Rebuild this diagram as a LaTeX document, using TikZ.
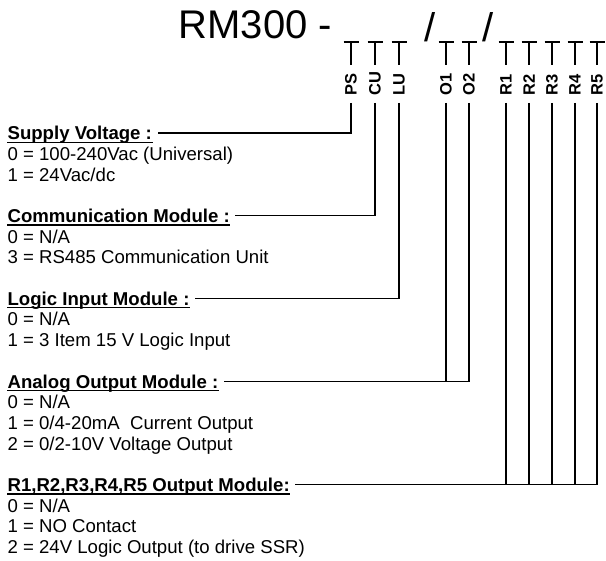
\documentclass[tikz,border=0pt]{standalone}
\usepackage{fontspec}
\setmainfont{Liberation Sans}
\usetikzlibrary{calc}
\begin{document}
\begin{tikzpicture}[x=1pt,y=-1pt,line width=1.2pt,
  lbl/.style={font=\fontsize{16.5}{16.5}\selectfont\bfseries,rotate=90,anchor=west,inner sep=0pt},
  head/.style={font=\fontsize{18.6}{18.6}\selectfont\bfseries,anchor=base west,inner sep=0pt},
  txt/.style={font=\fontsize{18.6}{18.6}\selectfont,anchor=base west,inner sep=0pt},
  title/.style={font=\fontsize{40}{40}\selectfont,anchor=base west,inner sep=0pt},
  wire/.style={line width=1.2pt}]
\useasboundingbox (0,0) rectangle (606,561);
% title
\node[title] (t) at (178,39) {RM300 -};
\node[title] (s1) at (423.5,42) {/};
\node[title] (s2) at (482,42) {/};
% T marks, labels, wire starts
\foreach \n/\x in {PS/351,CU/375,LU/399,O1/446,O2/469,R1/506,R2/529,R3/552,R4/575,R5/597}{
  \draw[wire] (\x-7.5,42) -- (\x+7.5,42) (\x,42) -- (\x,65);
  \node[lbl] (l\n) at (\x,96) {\n};
  \coordinate (c\n) at (\x,103);
}
% groups
\newcommand{\bl}[1]{\fpeval{139.7+20.7*#1}}
\node[head] (hS) at (7,\bl{0}) {Supply Voltage :};
\node[txt] (tS1) at (7,\bl{1}) {0 = 100-240Vac (Universal)};
\node[txt] (tS2) at (7,\bl{2}) {1 = 24Vac/dc};
\node[head] (hC) at (7,\bl{4}) {Communication Module :};
\node[txt] (tC1) at (7,\bl{5}) {0 = N/A};
\node[txt] (tC2) at (7,\bl{6}) {3 = RS485 Communication Unit};
\node[head] (hL) at (7,\bl{8}) {Logic Input Module :};
\node[txt] (tL1) at (7,\bl{9}) {0 = N/A};
\node[txt] (tL2) at (7,\bl{10}) {1 = 3 Item 15 V Logic Input};
\node[head] (hA) at (7,\bl{12}) {Analog Output Module :};
\node[txt] (tA1) at (7,\bl{13}) {0 = N/A};
\node[txt] (tA2) at (7,\bl{14}) {1 = 0/4-20mA\ \ Current Output};
\node[txt] (tA3) at (7,\bl{15}) {2 = 0/2-10V Voltage Output};
\node[head] (hR) at (7,\bl{17}) {R1,R2,R3,R4,R5 Output Module:};
\node[txt] (tR1) at (7,\bl{18}) {0 = N/A};
\node[txt] (tR2) at (7,\bl{19}) {1 = NO Contact};
\node[txt] (tR3) at (7,\bl{20}) {2 = 24V Logic Output (to drive SSR)};
% underlines and wire ends
\foreach \h in {hS,hC,hL,hA,hR}{
  \draw[wire] ([yshift=-2.5pt]\h.base west) -- ([yshift=-2.5pt]\h.base east);
  \coordinate (e\h) at ($(\h.base east)+(5,-6.7)$);
}
% connectors
\draw[wire] (cPS) |- (ehS);
\draw[wire] (cCU) |- (ehC);
\draw[wire] (cLU) |- (ehL);
\draw[wire] (cO2) |- (ehA);
\draw[wire] (cO1) -- (cO1 |- ehA);
\draw[wire] (cR5) |- (ehR);
\foreach \n in {R1,R2,R3,R4}{
  \draw[wire] (c\n) -- (c\n |- ehR);
}
\end{tikzpicture}
\end{document}
